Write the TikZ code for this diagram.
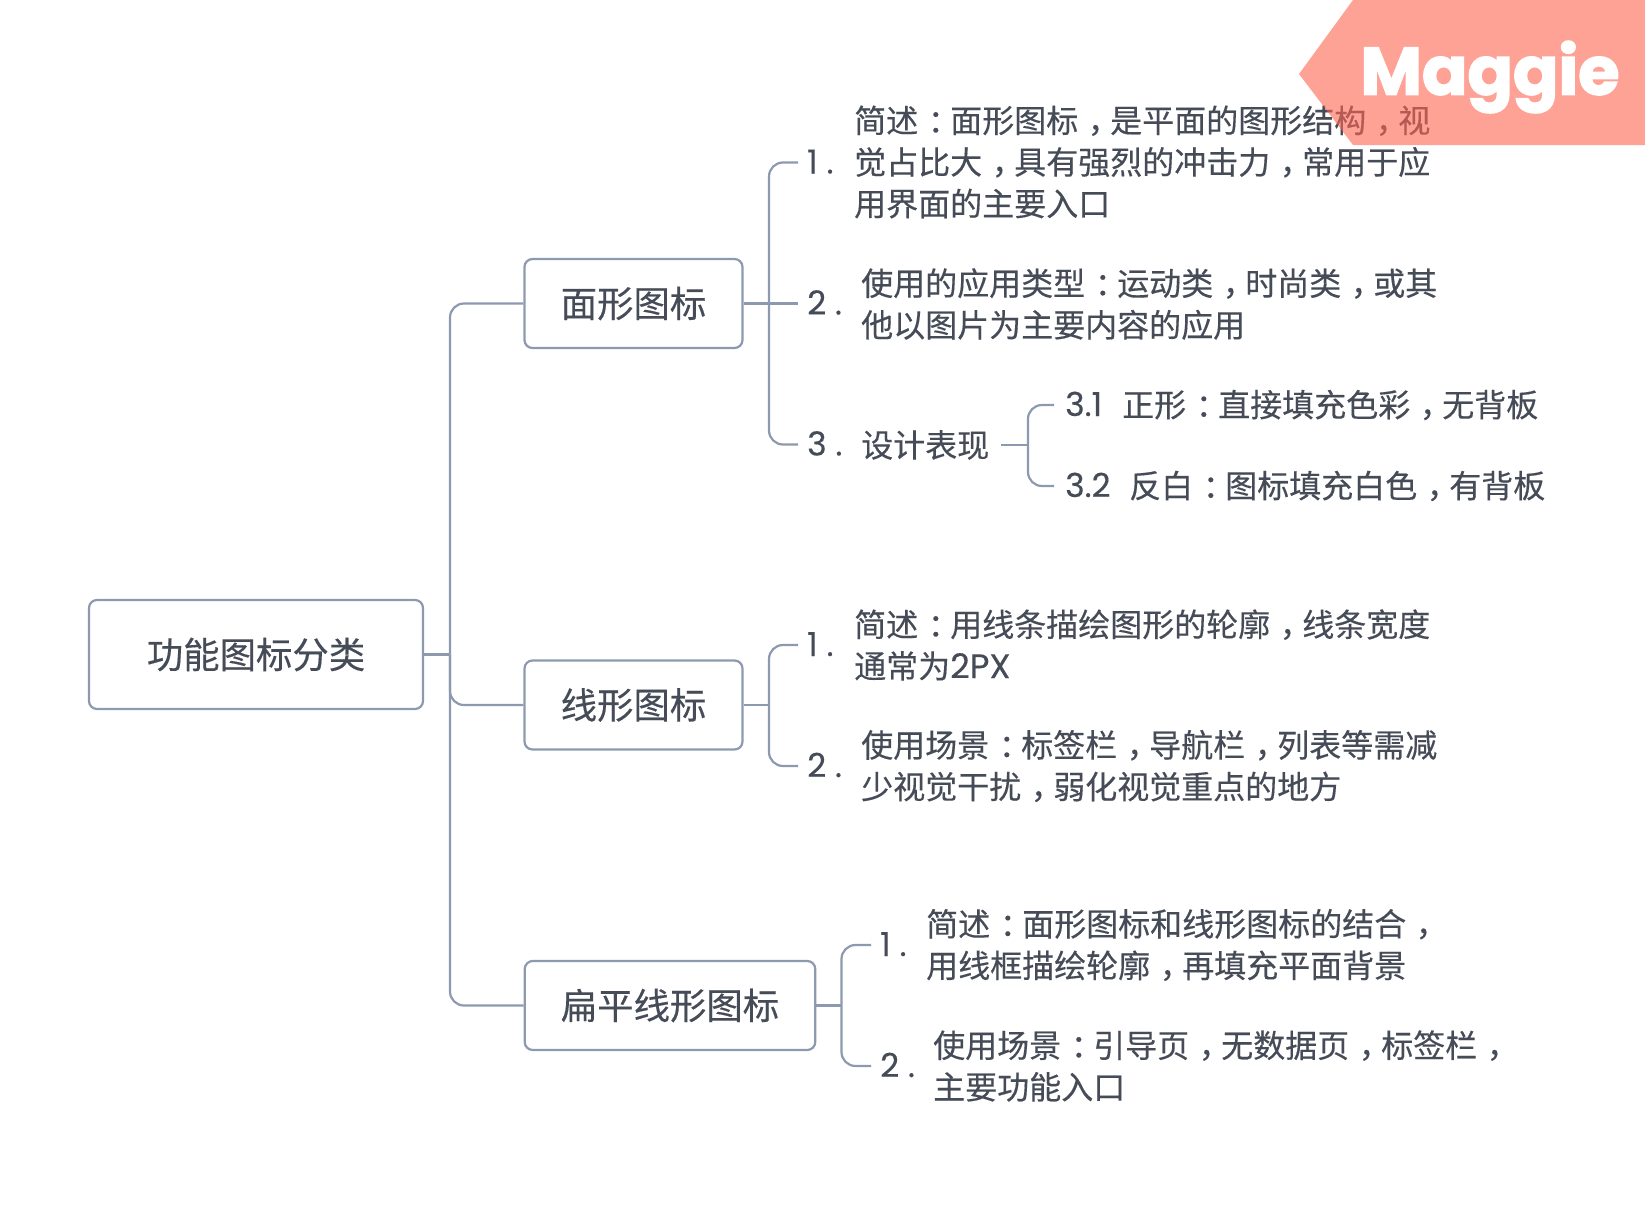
\documentclass[tikz,border=0pt]{standalone}
\usepackage{fontspec}
\setmainfont[FakeBold=0.35]{Noto Sans CJK SC}
\newfontfamily\numfont[FakeBold=0.3]{Poppins}
\newfontfamily\tagfont[UprightFont=* Bold,FakeBold=2.2]{Poppins}
\usetikzlibrary{positioning}
\definecolor{inkgray}{HTML}{454B57}
\definecolor{linkgray}{HTML}{8C99AE}
\definecolor{tagred}{RGB}{255,100,80}
\newcommand{\cma}{\kern.3em，\kern-.3em}
\newcommand{\cln}{\kern.3em：\kern-.3em}
\tikzset{
    topic/.style={draw=linkgray, line width=2.2pt, rounded corners=8pt, text=inkgray,
        minimum height=89pt, font=\fontsize{36.4}{42}\selectfont},
    link/.style={draw=linkgray, line width=2.2pt, rounded corners=14pt},
    itemnum/.style={anchor=west, text=inkgray, inner xsep=9pt, inner ysep=0pt, text height=22pt, text depth=0pt,
        font=\numfont\fontsize{33}{42}\selectfont},
    itemtext/.style={anchor=west, text=inkgray, inner sep=0pt, align=left,
        font=\fontsize{32}{41.6}\selectfont},
}
\begin{document}
\begin{tikzpicture}[x=1pt, y=-1pt]
    \useasboundingbox (0,0) rectangle (1645,1207);

    \node[topic, minimum width=334pt, minimum height=109pt] (root) at (256,654.5) {功能图标分类};
    \node[topic, minimum width=218pt] (face) at (633.5,303.5) {面形图标};
    \node[topic, minimum width=218pt] (line) at (633.5,705) {线形图标};
    \node[topic, minimum width=290.5pt] (flat) at (670,1005.5) {扁平线形图标};

    % face
    \node[itemnum] (faceOne) at (798,162.5) {1 .};
    \node[itemtext] (faceOneText) at (854,162) {简述\cln 面形图标\cma 是平面的图形结构\cma 视\\觉占比大\cma 具有强烈的冲击力\cma 常用于应\\用界面的主要入口};
    \node[itemnum] (faceTwo) at (798,303.5) {2 .};
    \node[itemtext] (faceTwoText) at (861,304) {使用的应用类型\cln 运动类\cma 时尚类\cma 或其\\他以图片为主要内容的应用};
    \node[itemnum] (faceThree) at (798,444.5) {3 .};
    \node[itemtext, inner xsep=12pt] (faceThreeText) at (849,445) {设计表现};
    \node[itemnum, inner xsep=11pt] (solid) at (1054,405) {3.1};
    \node[itemtext] (solidText) at (1122,405) {正形\cln 直接填充色彩\cma 无背板};
    \node[itemnum, inner xsep=11pt] (invert) at (1054,486) {3.2};
    \node[itemtext] (invertText) at (1129,486) {反白\cln 图标填充白色\cma 有背板};

    % line
    \node[itemnum] (lineOne) at (798,645) {1 .};
    \node[itemtext] (lineOneText) at (854,645) {简述\cln 用线条描绘图形的轮廓\cma 线条宽度\\通常为{\numfont\fontsize{34}{41.6}\selectfont 2PX}};
    \node[itemnum] (lineTwo) at (798,766) {2 .};
    \node[itemtext] (lineTwoText) at (861,766) {使用场景\cln 标签栏\cma 导航栏\cma 列表等需减\\少视觉干扰\cma 弱化视觉重点的地方};

    % flat
    \node[itemnum] (flatOne) at (871,945) {1 .};
    \node[itemtext] (flatOneText) at (926,945) {简述\cln 面形图标和线形图标的结合\cma\\用线框描绘轮廓\cma 再填充平面背景};
    \node[itemnum] (flatTwo) at (871,1066) {2 .};
    \node[itemtext] (flatTwoText) at (933,1066) {使用场景\cln 引导页\cma 无数据页\cma 标签栏\cma\\主要功能入口};

    \coordinate (rootJoin) at (450,654.5);
    \coordinate (faceJoin) at (769,303.5);
    \coordinate (lineJoin) at (769,705);
    \coordinate (flatJoin) at (841.5,1005.5);
    \coordinate (designJoin) at (1028,445);

    \draw[link] (root.east) -- (rootJoin);
    \foreach \n in {face,line,flat}
        \draw[link] (rootJoin) |- (\n.west);

    \draw[link] (face.east) -- (faceTwo.west);
    \foreach \n in {faceOne,faceThree}
        \draw[link] (faceJoin) |- (\n.west);
    \draw[link] (line.east) -- (lineJoin);
    \foreach \n in {lineOne,lineTwo}
        \draw[link] (lineJoin) |- (\n.west);
    \draw[link] (flat.east) -- (flatJoin);
    \foreach \n in {flatOne,flatTwo}
        \draw[link] (flatJoin) |- (\n.west);

    \draw[link] (faceThreeText.east) -- (designJoin);
    \foreach \n in {solid,invert}
        \draw[link] (designJoin) |- (\n.west);

    % tag sits over the text
    \fill[tagred, fill opacity=0.6] (1353,0) -- (1299,74) -- (1353,145) -- (1645,145) -- (1645,0) -- cycle;
    \node[text=white, inner sep=0pt, font=\tagfont\fontsize{67}{67}\selectfont] (maggie) at (1490,77) {Maggie};
\end{tikzpicture}
\end{document}
